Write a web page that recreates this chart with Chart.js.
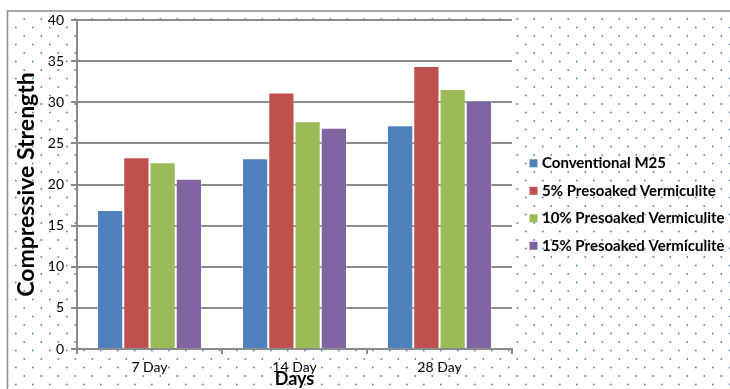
<!DOCTYPE html>
<html>
<head>
<meta charset="utf-8">
<script src="https://cdn.jsdelivr.net/npm/chart.js@4"></script>
<style>
  html, body { margin: 0; padding: 0; background: #fff; }
  #wrap { width: 730px; height: 389px; }
</style>
</head>
<body>
<div id="wrap"><canvas id="strengthChart"></canvas></div>
<script>
//Chart data
const days = ['7 Day', '14 Day', '28 Day'];
const seriesNames = ['Conventional M25', '5% Presoaked Vermiculite', '10% Presoaked Vermiculite', '15% Presoaked Vermiculite'];
const conventional = [16.9, 23.2, 27.2];
const presoaked5 = [23.3, 31.2, 34.4];
const presoaked10 = [22.7, 27.7, 31.6];
const presoaked15 = [20.7, 26.9, 30.2];
const seriesColors = ['#4f81bd', '#c0504d', '#9bbb59', '#8064a2'];
const yTicks = [0, 5, 10, 15, 20, 25, 30, 35, 40];

const gridGray = '#8a8a8a';
const fontFamily = 'Lato, "Open Sans", sans-serif';

//Dotted background, white plot area and the hand made legend
const backdrop = {
    id: 'backdrop',
    beforeDraw(chart) {
        const ctx = chart.ctx;
        const area = chart.chartArea;
        ctx.save();
        ctx.fillStyle = '#fff';
        ctx.fillRect(0, 0, chart.width, chart.height);
        ctx.fillStyle = '#4f81bd';
        let row = 0;
        for (let y = 19; y < chart.height; y += 8.5) {
            const start = row % 2 === 0 ? 24.3 : 15.8;
            for (let x = start; x < chart.width; x += 17) {
                ctx.fillRect(x - 0.8, y - 0.8, 1.6, 1.6);
            }
            row++;
        }
        ctx.strokeStyle = '#8c8c8c';
        ctx.lineWidth = 1.5;
        ctx.strokeRect(7.5, 11, chart.width + 10, chart.height + 10);
        ctx.fillStyle = '#fff';
        ctx.fillRect(area.left, area.top, area.right - area.left, area.bottom - area.top);
        ctx.restore();
    },
    afterDraw(chart) {
        const ctx = chart.ctx;
        ctx.save();
        ctx.font = 'bold 15px ' + fontFamily;
        ctx.textBaseline = 'middle';
        chart.data.datasets.forEach((ds, i) => {
            const y = 163.3 + i * 27.5;
            ctx.fillStyle = ds.backgroundColor;
            ctx.fillRect(529.5, y - 4, 8, 8);
            ctx.fillStyle = '#000';
            ctx.fillText(ds.label, 542, y);
        });
        ctx.restore();
    }
};

const datasets = [conventional, presoaked5, presoaked10, presoaked15].map((values, i) => ({
    label: seriesNames[i],
    data: values,
    backgroundColor: seriesColors[i],
    borderColor: 'rgba(255, 255, 255, 0.35)',
    borderWidth: 1,
    categoryPercentage: 0.724,
    barPercentage: 1,
}));

const strengthChart = new Chart(document.getElementById('strengthChart'), {
    type: 'bar',
    data: {
        labels: days,
        datasets: datasets,
    },
    options: {
        responsive: true,
        maintainAspectRatio: false,
        animation: false,
        layout: { padding: { top: 20, right: 218, bottom: 0, left: 0 } },
        plugins: {
            legend: { display: false },
            tooltip: { enabled: false },
        },
        scales: {
            x: {
                afterFit(scale) { scale.height = 40; },
                grid: {
                    offset: true,
                    drawOnChartArea: false,
                    drawTicks: true,
                    tickLength: 5,
                    color: gridGray,
                    lineWidth: 2,
                },
                border: { color: gridGray, width: 2 },
                ticks: {
                    color: '#000',
                    padding: 5,
                    font: { family: fontFamily, size: 14 },
                },
                title: {
                    display: true,
                    text: 'Days',
                    color: '#000',
                    padding: 0,
                    font: { family: fontFamily, size: 18, weight: 'bold', lineHeight: 1.1 },
                },
            },
            y: {
                min: 0,
                max: 40,
                afterFit(scale) { scale.width = 77; },
                afterBuildTicks(scale) { scale.ticks = yTicks.map(v => ({ value: v })); },
                grid: {
                    color: gridGray,
                    lineWidth: 2,
                    tickLength: 6,
                },
                border: { color: gridGray, width: 2 },
                ticks: {
                    color: '#000',
                    padding: 7,
                    font: { family: fontFamily, size: 14 },
                },
                title: {
                    display: true,
                    text: 'Compressive Strength',
                    color: '#000',
                    padding: { top: 14, bottom: 0 },
                    font: { family: fontFamily, size: 23, weight: 'bold', lineHeight: 1.1 },
                },
            },
        },
    },
    plugins: [backdrop],
});
</script>
</body>
</html>
